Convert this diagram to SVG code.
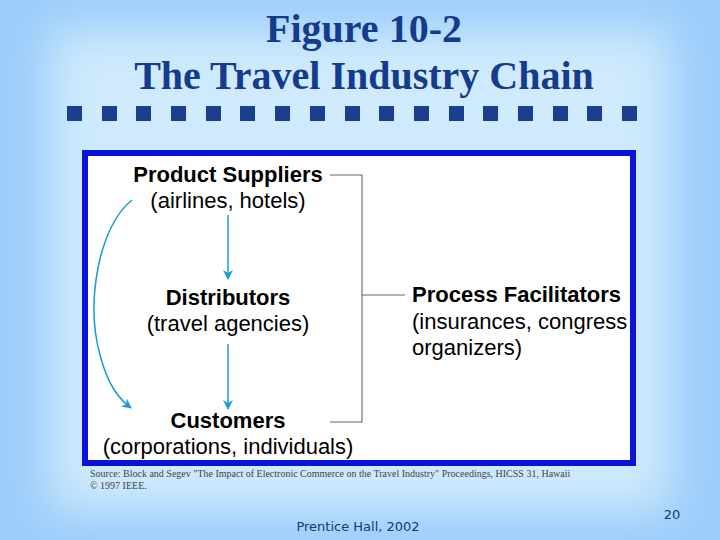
<svg xmlns="http://www.w3.org/2000/svg" width="720" height="540" viewBox="0 0 720 540">
<defs>
<filter id="soft" x="-20%" y="-20%" width="140%" height="140%"><feGaussianBlur stdDeviation="22"/></filter>
<marker id="ah" viewBox="0 0 10 10" refX="9" refY="5" markerWidth="10" markerHeight="10" orient="auto" markerUnits="userSpaceOnUse"><path d="M0,0 L10,5 L0,10 L3,5 Z" fill="#1b9ad8"/></marker>
<style>
.t{font-family:"Liberation Serif",serif;font-weight:bold;font-size:40px;fill:#153c8c;text-anchor:middle}
.sq{fill:#1a3f8f}
.b{font-family:"Liberation Sans",Arial,sans-serif;font-weight:bold;font-size:22px;fill:#000}
.n{font-family:"Liberation Sans",Arial,sans-serif;font-size:22px;fill:#000}
.c{text-anchor:middle}
.src{font-family:"Liberation Serif",serif;font-size:10px;fill:#444}
.ft{font-family:"DejaVu Sans",sans-serif;font-size:13px;fill:#143a70}
.gl{fill:none;stroke:#666;stroke-width:1.1}
.bl{fill:none;stroke:#1b9ad8;stroke-width:1.5}
</style>
</defs>
<rect width="720" height="540" fill="#9ccdfb"/>
<rect x="50" y="30" width="620" height="480" fill="#cfeafc" filter="url(#soft)"/>
<text class="t" x="364" y="42">Figure 10-2</text>
<text class="t" x="364" y="89">The Travel Industry Chain</text>
<g id="squares">
<rect class="sq" x="67" y="106" width="15" height="15"/><rect class="sq" x="102" y="106" width="15" height="15"/><rect class="sq" x="136" y="106" width="15" height="15"/><rect class="sq" x="171" y="106" width="15" height="15"/><rect class="sq" x="206" y="106" width="15" height="15"/><rect class="sq" x="240" y="106" width="15" height="15"/><rect class="sq" x="275" y="106" width="15" height="15"/><rect class="sq" x="310" y="106" width="15" height="15"/><rect class="sq" x="345" y="106" width="15" height="15"/><rect class="sq" x="379" y="106" width="15" height="15"/><rect class="sq" x="414" y="106" width="15" height="15"/><rect class="sq" x="449" y="106" width="15" height="15"/><rect class="sq" x="483" y="106" width="15" height="15"/><rect class="sq" x="518" y="106" width="15" height="15"/><rect class="sq" x="553" y="106" width="15" height="15"/><rect class="sq" x="587" y="106" width="15" height="15"/><rect class="sq" x="622" y="106" width="15" height="15"/>
</g>
<rect x="85" y="153" width="548" height="310" fill="#fff" stroke="#0a14d8" stroke-width="6"/>
<svg x="88" y="156" width="542" height="304" viewBox="88 156 542 304" overflow="hidden">
<g id="connectors">
<path class="gl" d="M330,175 H362 V422 H330 M362,295 H405"/>
<line class="bl" x1="228" y1="215" x2="228" y2="279" marker-end="url(#ah)"/>
<line class="bl" x1="228" y1="344" x2="228" y2="409" marker-end="url(#ah)"/>
<path class="bl" d="M132,200 C100,225 85,300 100,355 C108,385 118,398 131,408" marker-end="url(#ah)"/>
</g>
<g id="suppliers"><text class="b c" x="228" y="182">Product Suppliers</text><text class="n c" x="228" y="208">(airlines, hotels)</text></g>
<g id="distributors"><text class="b c" x="228" y="305">Distributors</text><text class="n c" x="228" y="331">(travel agencies)</text></g>
<g id="customers"><text class="b c" x="228" y="428">Customers</text><text class="n c" x="228" y="454">(corporations, individuals)</text></g>
<g id="facilitators"><text class="b" x="412" y="302">Process Facilitators</text><text class="n" x="412" y="329">(insurances, congress</text><text class="n" x="412" y="355">organizers)</text></g>
</svg>
<text class="src" x="90" y="477">Source: Block and Segev "The Impact of Electronic Commerce on the Travel Industry" Proceedings, HICSS 31, Hawaii</text>
<text class="src" x="90" y="489">© 1997 IEEE.</text>
<text class="ft" x="358" y="531" text-anchor="middle">Prentice Hall, 2002</text>
<text class="ft" x="672" y="519" text-anchor="middle">20</text>
</svg>
